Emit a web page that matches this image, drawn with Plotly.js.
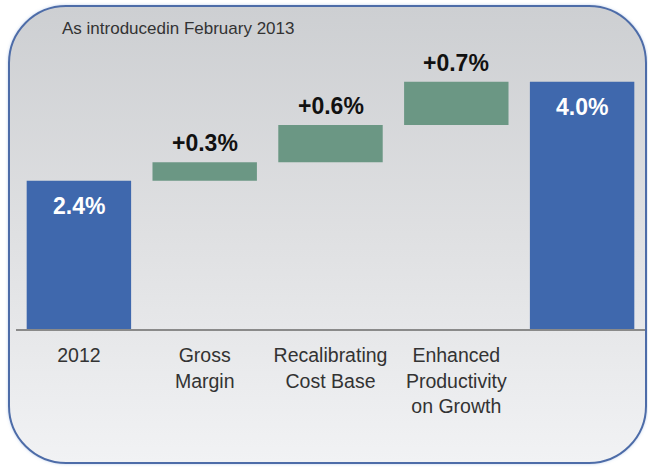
<!DOCTYPE html>
<html>
<head>
<meta charset="utf-8">
<script src="https://cdn.plot.ly/plotly-3.0.1.min.js"></script>
<style>
  html, body { margin:0; padding:0; background:#ffffff; }
  #wrap { position:relative; width:648px; height:467px; overflow:hidden; }
  #frame { position:absolute; left:8px; top:5px; width:635px; height:455px;
           border:2.5px solid #4d6ca8; border-radius:58px;
           background:linear-gradient(to bottom, #cdcfd2 0%, #dfe0e2 50%, #f1f2f4 100%);
           box-shadow:0 0 3px rgba(120,160,220,0.5); }
  #chart { position:absolute; left:0; top:0; width:648px; height:467px; }
</style>
</head>
<body>
<div id="wrap">
  <div id="frame"></div>
  <div id="chart"></div>
</div>
<script>
const categories = ["2012", "Gross Margin", "Recalibrating Cost Base", "Enhanced Productivity on Growth", "2013 target"];
const values = [2.4, 0.3, 0.6, 0.7, 4.0];
const measures = ["total", "change", "change", "change", "total"];
const valueLabels = ["2.4%", "+0.3%", "+0.6%", "+0.7%", "4.0%"];
const tickLabels = ["2012", "Gross<br>Margin", "Recalibrating<br>Cost Base", "Enhanced<br>Productivity<br>on Growth", ""];
const subtitle = "As introducedin February 2013";

const blue = "#3f68ad";
const green = "#6b9784";
const FONT = "Liberation Sans, Arial, sans-serif";

// bases: totals start at 0, changes stack on running total
const bases = [];
let running = 0;
for (let i = 0; i < values.length; i++) {
  if (measures[i] === "total") { bases.push(0); running = values[i]; }
  else { bases.push(running); running += values[i]; }
}
const tops = values.map((v, i) => bases[i] + v);
const colors = measures.map(m => m === "total" ? blue : green);
const xIdx = categories.map((c, i) => i);

const trace = {
  type: "bar",
  x: xIdx,
  y: values,
  base: bases,
  marker: { color: colors, line: { width: 0 } },
  hoverinfo: "skip"
};

const annotations = xIdx.map(i => {
  const isTotal = measures[i] === "total";
  return {
    x: i, y: tops[i], xref: "x", yref: "y",
    text: "<b>" + valueLabels[i] + "</b>",
    showarrow: false,
    xanchor: "center",
    yanchor: isTotal ? "top" : "bottom",
    yshift: isTotal ? -10 : 4,
    font: { family: FONT, size: 23, color: isTotal ? "#ffffff" : "#111111" }
  };
});
annotations.push({
  x: (60 - 16) / (648 - 16 - 3), y: 1 + (20 - 28) / 309,
  xref: "paper", yref: "paper", xanchor: "left", yanchor: "middle",
  text: subtitle, showarrow: false,
  font: { family: FONT, size: 17, color: "#333333" }
});

const layout = {
  width: 648, height: 467,
  margin: { l: 16, r: 3, t: 20, b: 138, pad: 0 },
  paper_bgcolor: "rgba(0,0,0,0)",
  plot_bgcolor: "rgba(0,0,0,0)",
  bargap: 0.17,
  showlegend: false,
  font: { family: FONT, color: "#333333" },
  xaxis: {
    type: "linear",
    range: [-0.5, 4.5],
    tickvals: xIdx,
    ticktext: tickLabels,
    showline: true, linecolor: "#8a8a8a", linewidth: 2,
    ticks: "outside", ticklen: 8, tickcolor: "rgba(0,0,0,0)",
    tickfont: { size: 19.5, color: "#333333", family: FONT },
    showgrid: false, zeroline: false, fixedrange: true
  },
  yaxis: {
    range: [0, 5], visible: false, showgrid: false, zeroline: false, fixedrange: true
  },
  annotations: annotations
};

Plotly.newPlot("chart", [trace], layout, { displayModeBar: false, staticPlot: true });
</script>
</body>
</html>
